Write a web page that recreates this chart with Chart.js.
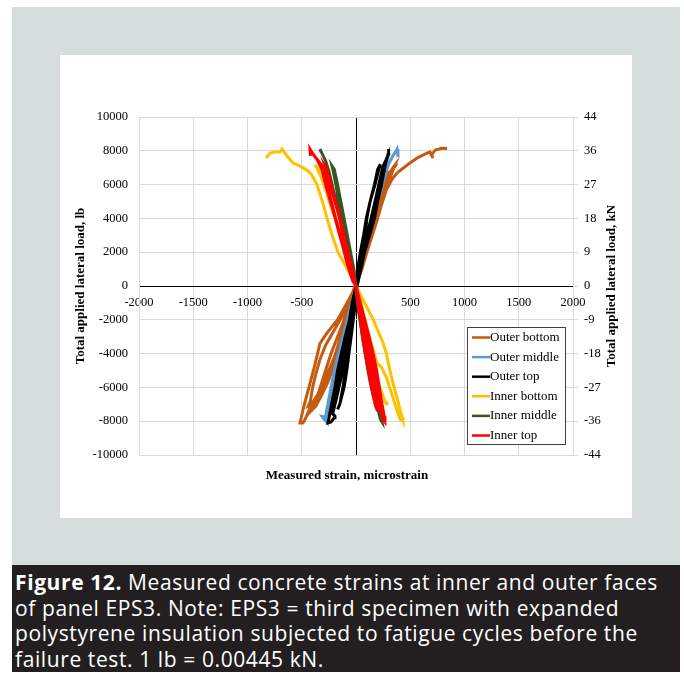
<!DOCTYPE html>
<html>
<head>
<meta charset="utf-8">
<script src="https://cdn.jsdelivr.net/npm/chart.js@4.4.1/dist/chart.umd.min.js"></script>
<style>
  html, body { margin: 0; padding: 0; background: #fff; }
  #frame { position: absolute; left: 12px; top: 7px; width: 668px; height: 558px; background: #d5dedc; }
  #panel { position: absolute; left: 60px; top: 55px; width: 572px; height: 463px; background: #fff; }
  #caption {
    position: absolute; left: 12px; top: 565px; width: 668px; height: 107px;
    background: #231f20; color: #fff; box-sizing: border-box; padding: 5px 0 0 3px;
    font-family: "Open Sans", Roboto, sans-serif; font-size: 21px; line-height: 25.7px;
    letter-spacing: 0.6px; white-space: nowrap;
  }
  #caption b { font-weight: 700; }
</style>
</head>
<body>
<div id="frame"></div>
<div id="panel"><canvas id="chart" width="572" height="463"></canvas></div>
<div id="caption"><b>Figure 12.</b> Measured concrete strains at inner and outer faces<br>of panel EPS3. Note: EPS3 = third specimen with expanded<br>polystyrene insulation subjected to fatigue cycles before the<br>failure test. 1 lb = 0.00445 kN.</div>
<script>
/* ==== data ========================================================= */
// [strain (microstrain), load (lb)], cycles in test order
const outerBottom = [
  [0,0],[60,1200],[120,2500],[170,3600],[220,4700],[270,5700],[320,6500],[359,7160],[340,7000],[300,6500],[250,5600],[200,4500],[150,3300],[90,2000],[30,700],[-10,0],
  [-60,-900],[-120,-1700],[-200,-2600],[-280,-3500],[-330,-4300],[-370,-5200],[-400,-6000],[-420,-6800],[-440,-7100],[-410,-7000],[-360,-6500],[-300,-5800],[-250,-5000],[-200,-4200],[-150,-3200],[-110,-2200],[-60,-1200],[0,0],
  [50,1000],[100,2200],[150,3400],[200,4600],[240,5600],[275,6300],[300,6700],[320,6800],[290,6400],[240,5500],[180,4200],[120,2800],[60,1400],[0,0],
  [-50,-1000],[-110,-2000],[-170,-3000],[-230,-4000],[-280,-5000],[-330,-6000],[-380,-7000],[-400,-7300],[-370,-7100],[-320,-6500],[-260,-5700],[-210,-4800],[-160,-3800],[-120,-2800],[-80,-1800],[-40,-800],[0,0],
  [40,800],[90,1800],[140,2800],[190,3800],[240,4900],[290,6000],[330,6900],[378,7250],[340,6900],[280,6000],[225,5000],[170,3900],[120,2800],[70,1600],[25,500],[0,0],
  [-83,-1000],[-170,-2000],[-270,-2800],[-332,-3400],[-380,-4700],[-434,-6000],[-480,-7100],[-516,-8100],[-490,-8100],[-470,-7900],[-430,-7300],[-360,-6600],[-300,-6000],[-250,-5300],[-200,-4400],[-150,-3300],[-100,-2200],[-50,-1000],[0,0],
  [50,900],[110,2200],[170,3500],[230,4700],[280,5700],[330,6300],[380,6700],[440,7000],[500,7300],[570,7600],[640,7820],[682,7930],[710,7570],[695,7750],[730,8050],[790,8150],[839,8140]
];
const outerMiddle = [
  [0,0],[40,1000],[75,2000],[115,3000],[160,4000],[200,5000],[240,6000],[265,6800],[280,7200],[255,6900],[220,6000],[180,5000],[140,4000],[100,3000],[60,2000],[20,800],[0,0],
  [-35,-1000],[-70,-2000],[-110,-3000],[-150,-4000],[-185,-5000],[-221,-6000],[-250,-7000],[-265,-7400],[-240,-7200],[-200,-6300],[-165,-5300],[-130,-4300],[-95,-3300],[-60,-2200],[-25,-1000],[0,0],
  [-40,-1000],[-80,-2000],[-120,-3000],[-160,-4000],[-200,-5000],[-230,-6000],[-260,-7000],[-280,-7700],[-270,-8050],[-300,-7850],[-313,-7720],[-290,-7750],[-255,-7600],[-215,-6700],[-175,-5600],[-135,-4400],[-95,-3200],[-55,-2000],[-20,-800],[10,0],
  [50,1200],[95,2400],[145,3600],[190,4700],[235,5800],[270,6600],[300,7200],[340,7700],[365,7950],[378,8100],[387,7630]
];
const outerTop = [
  [0,0],[30,1000],[50,2000],[85,3000],[100,4000],[130,5000],[175,6000],[210,6900],[225,7200],[200,6900],[170,6000],[130,5000],[95,4000],[70,3000],[40,2000],[15,1000],[0,0],
  [-20,-1000],[-40,-2000],[-65,-3000],[-85,-4000],[-100,-5000],[-120,-6000],[-150,-7000],[-170,-7300],[-150,-7000],[-110,-6000],[-85,-5000],[-65,-4000],[-45,-3000],[-25,-2000],[-5,-1000],[0,0],
  [40,1000],[70,2000],[110,3000],[150,4000],[185,5000],[220,6000],[250,6900],[265,7300],[245,7000],[210,6000],[175,5000],[140,4000],[100,3000],[65,2000],[30,1000],[0,0],
  [-30,-1000],[-55,-2000],[-90,-3000],[-125,-4000],[-160,-5000],[-185,-6000],[-215,-7000],[-240,-7600],[-215,-7400],[-180,-6500],[-150,-5600],[-120,-4500],[-90,-3500],[-60,-2500],[-30,-1300],[0,0],
  [45,1000],[80,2000],[125,3000],[170,4000],[200,5000],[235,6000],[265,7000],[280,7500],[260,7200],[225,6200],[190,5200],[160,4200],[120,3100],[80,2000],[40,1000],[0,0],
  [-35,-1000],[-60,-2000],[-100,-3000],[-135,-4000],[-170,-5000],[-194,-6000],[-225,-7000],[-258,-8100],[-230,-8050],[-200,-7800],[-194,-7700],[-215,-7550],[-205,-7300],[-175,-6500],[-140,-5500],[-110,-4500],[-80,-3500],[-50,-2300],[-20,-1000],[10,0],
  [50,1200],[90,2400],[135,3600],[175,4700],[215,5800],[245,6600],[275,7300],[295,7800],[304,8100],[298,7800]
];
const innerBottom = [
  [0,0],[-50,1000],[-95,2000],[-140,3000],[-185,4000],[-230,5000],[-280,6000],[-330,6800],[-378,7160],[-360,7000],[-320,6400],[-270,5500],[-220,4500],[-170,3500],[-125,2500],[-80,1500],[-30,400],[0,0],
  [30,-1000],[65,-2000],[101,-3000],[135,-4000],[175,-5000],[221,-6000],[265,-6800],[295,-7040],[270,-6900],[230,-6200],[190,-5300],[150,-4300],[115,-3300],[80,-2300],[45,-1300],[10,-300],[0,0],
  [65,-830],[160,-2000],[249,-3370],[280,-4000],[313,-5000],[341,-5740],[378,-6600],[405,-7300],[424,-7750],[433,-7930],[410,-7930],[390,-7600],[360,-7000],[320,-6200],[280,-5400],[235,-4800],[194,-4560],[160,-3800],[120,-2900],[80,-1900],[40,-900],[0,0],
  [-80,1000],[-166,2000],[-220,3000],[-267,4000],[-310,5000],[-360,6000],[-410,6600],[-452,6860],[-520,7100],[-581,7280],[-630,7650],[-682,8100],[-700,7930],[-750,7930],[-793,7870],[-829,7570]
];
const innerMiddle = [
  [0,0],[-30,1000],[-65,2000],[-100,3000],[-130,4000],[-160,5000],[-185,6000],[-210,6800],[-221,7100],[-200,6900],[-170,6000],[-140,5000],[-110,4000],[-80,3000],[-50,2000],[-20,1000],[0,0],
  [25,-1000],[50,-2000],[75,-3000],[100,-4000],[125,-5000],[150,-6000],[180,-6800],[195,-7100],[175,-6900],[140,-6000],[110,-5000],[85,-4000],[60,-3000],[35,-2000],[10,-800],[0,0],
  [30,-1000],[60,-2000],[95,-3000],[125,-4000],[155,-5000],[185,-6000],[210,-7000],[230,-7700],[240,-8050],[225,-7900],[200,-7200],[165,-6200],[135,-5200],[105,-4200],[75,-3200],[45,-2100],[15,-900],[0,0],
  [-40,1000],[-80,2000],[-115,3000],[-150,4000],[-185,5000],[-220,6000],[-250,6800],[-280,7400],[-310,7800],[-332,8100],[-320,7900]
];
const innerTop = [
  [0,0],[-45,1000],[-85,2000],[-120,3000],[-150,4000],[-195,5000],[-240,6000],[-270,6800],[-285,7100],[-265,6900],[-230,6000],[-190,5000],[-145,4000],[-110,3000],[-75,2000],[-35,1000],[0,0],
  [25,-1000],[50,-2000],[80,-3000],[100,-4000],[125,-5000],[150,-6000],[180,-7000],[200,-7400],[180,-7100],[145,-6000],[115,-5000],[85,-4000],[60,-3000],[40,-2000],[15,-1000],[0,0],
  [-55,1000],[-105,2000],[-150,3000],[-190,4000],[-235,5000],[-280,6000],[-313,6900],[-335,7300],[-310,7100],[-275,6200],[-235,5200],[-200,4300],[-160,3300],[-120,2300],[-80,1300],[-30,300],[0,0],
  [35,-1000],[70,-2000],[110,-3000],[145,-4000],[175,-5000],[200,-6000],[225,-7000],[245,-7600],[225,-7400],[190,-6500],[160,-5500],[130,-4500],[95,-3500],[65,-2500],[35,-1500],[5,-300],[0,0],
  [40,-1000],[80,-2000],[120,-3000],[157,-4000],[190,-5000],[215,-6000],[240,-7000],[260,-7700],[267,-8050],[255,-7950],[230,-7400],[200,-6500],[165,-5400],[130,-4300],[95,-3200],[60,-2100],[25,-1000],[0,0],
  [-60,1100],[-110,2200],[-160,3300],[-205,4400],[-250,5500],[-290,6400],[-320,7000],[-360,7500],[-395,7800],[-424,8100],[-420,7700]
];

const seriesNames = ['Outer bottom', 'Outer middle', 'Outer top', 'Inner bottom', 'Inner middle', 'Inner top'];
const seriesData = [outerBottom, outerMiddle, outerTop, innerBottom, innerMiddle, innerTop];
const seriesColors = ['#c55a11', '#5b9bd5', '#000000', '#ffc000', '#375623', '#ff0000'];

// axis ticks (lb on the left, kN labels on the right)
const loadTicks = [-10000, -8000, -6000, -4000, -2000, 0, 2000, 4000, 6000, 8000, 10000];
const kNLabels = [-44, -36, -27, -18, -9, 0, 9, 18, 27, 36, 44];

/* ==== helpers ====================================================== */
const serif = 'Liberation Serif, Times New Roman, serif';
const gridCol = '#d9d9d9';

// boxed legend inside the plot, bottom right
const boxLegend = {
  id: 'boxLegend',
  afterDraw(chart) {
    const { ctx, chartArea: a } = chart;
    const w = 98, h = 117, x = a.right - 8 - w, y = a.bottom - 11 - h;
    ctx.save();
    ctx.fillStyle = '#fff';
    ctx.fillRect(x, y, w, h);
    ctx.strokeStyle = '#404040'; ctx.lineWidth = 1;
    ctx.strokeRect(x + 0.5, y + 0.5, w, h);
    ctx.font = `13px ${serif}`;
    ctx.textBaseline = 'middle';
    seriesNames.forEach((n, i) => {
      const cy = y + 10.5 + i * 19.6;
      ctx.strokeStyle = seriesColors[i]; ctx.lineWidth = 2.5;
      ctx.beginPath(); ctx.moveTo(x + 5, cy); ctx.lineTo(x + 23, cy); ctx.stroke();
      ctx.fillStyle = '#000';
      ctx.fillText(n, x + 23, cy);
    });
    ctx.restore();
  }
};

// x title below the plot and right-hand kN title (reads bottom to top)
const extraTitles = {
  id: 'extraTitles',
  afterDraw(chart) {
    const { ctx, chartArea: a } = chart;
    ctx.save();
    ctx.fillStyle = '#000';
    ctx.font = `bold 13px ${serif}`;
    ctx.textAlign = 'center'; ctx.textBaseline = 'middle';
    ctx.fillText('Measured strain, microstrain', a.left + 208, a.bottom + 21);
    ctx.translate(chart.width - 20, (a.top + a.bottom) / 2);
    ctx.rotate(-Math.PI / 2);
    ctx.fillText('Total applied lateral load, kN', 0, 0);
    ctx.restore();
  }
};

const tickFont = { family: serif, size: 12.5 };

/* ==== chart ======================================================== */
new Chart(document.getElementById('chart'), {
  type: 'scatter',
  data: {
    datasets: seriesNames.map((n, i) => ({
      label: n,
      data: seriesData[i].map(([x, y]) => ({ x, y })),
      showLine: true,
      borderColor: seriesColors[i],
      backgroundColor: seriesColors[i],
      borderWidth: 3,
      pointRadius: 0,
      tension: 0,
      order: seriesNames.length - i
    }))
  },
  options: {
    responsive: false,
    animation: false,
    layout: { padding: { top: 62, bottom: 63, left: 0, right: 0 } },
    plugins: { legend: { display: false }, tooltip: { enabled: false } },
    scales: {
      x: {
        type: 'linear', position: { y: 0 }, min: -2000, max: 2000,
        grid: { color: c => c.tick && c.tick.value === 0 ? '#000' : gridCol, drawTicks: false },
        border: { color: '#000', width: 1 },
        ticks: { stepSize: 500, autoSkip: false, maxRotation: 0, padding: 9, color: '#000', font: tickFont, callback: v => String(v) }
      },
      y: {
        position: 'left', min: -10000, max: 10000,
        afterFit: s => { s.width = 79; },
        grid: { color: gridCol, drawTicks: false },
        border: { color: gridCol },
        ticks: { stepSize: 2000, padding: 11, color: '#000', font: tickFont, callback: v => String(v) },
        title: { display: true, text: 'Total applied lateral load, lb', color: '#000', padding: { top: 12.5 }, font: { family: serif, size: 13, weight: 'bold' } }
      },
      y2: {
        position: 'right', min: -10000, max: 10000,
        afterFit: s => { s.width = 59; },
        grid: { drawOnChartArea: false, color: gridCol, tickLength: 5 },
        border: { color: gridCol },
        ticks: { stepSize: 2000, padding: 6, color: '#000', font: tickFont,
          callback: v => kNLabels[loadTicks.indexOf(v)] }
      }
    }
  },
  plugins: [boxLegend, extraTitles]
});
</script>
</body>
</html>
